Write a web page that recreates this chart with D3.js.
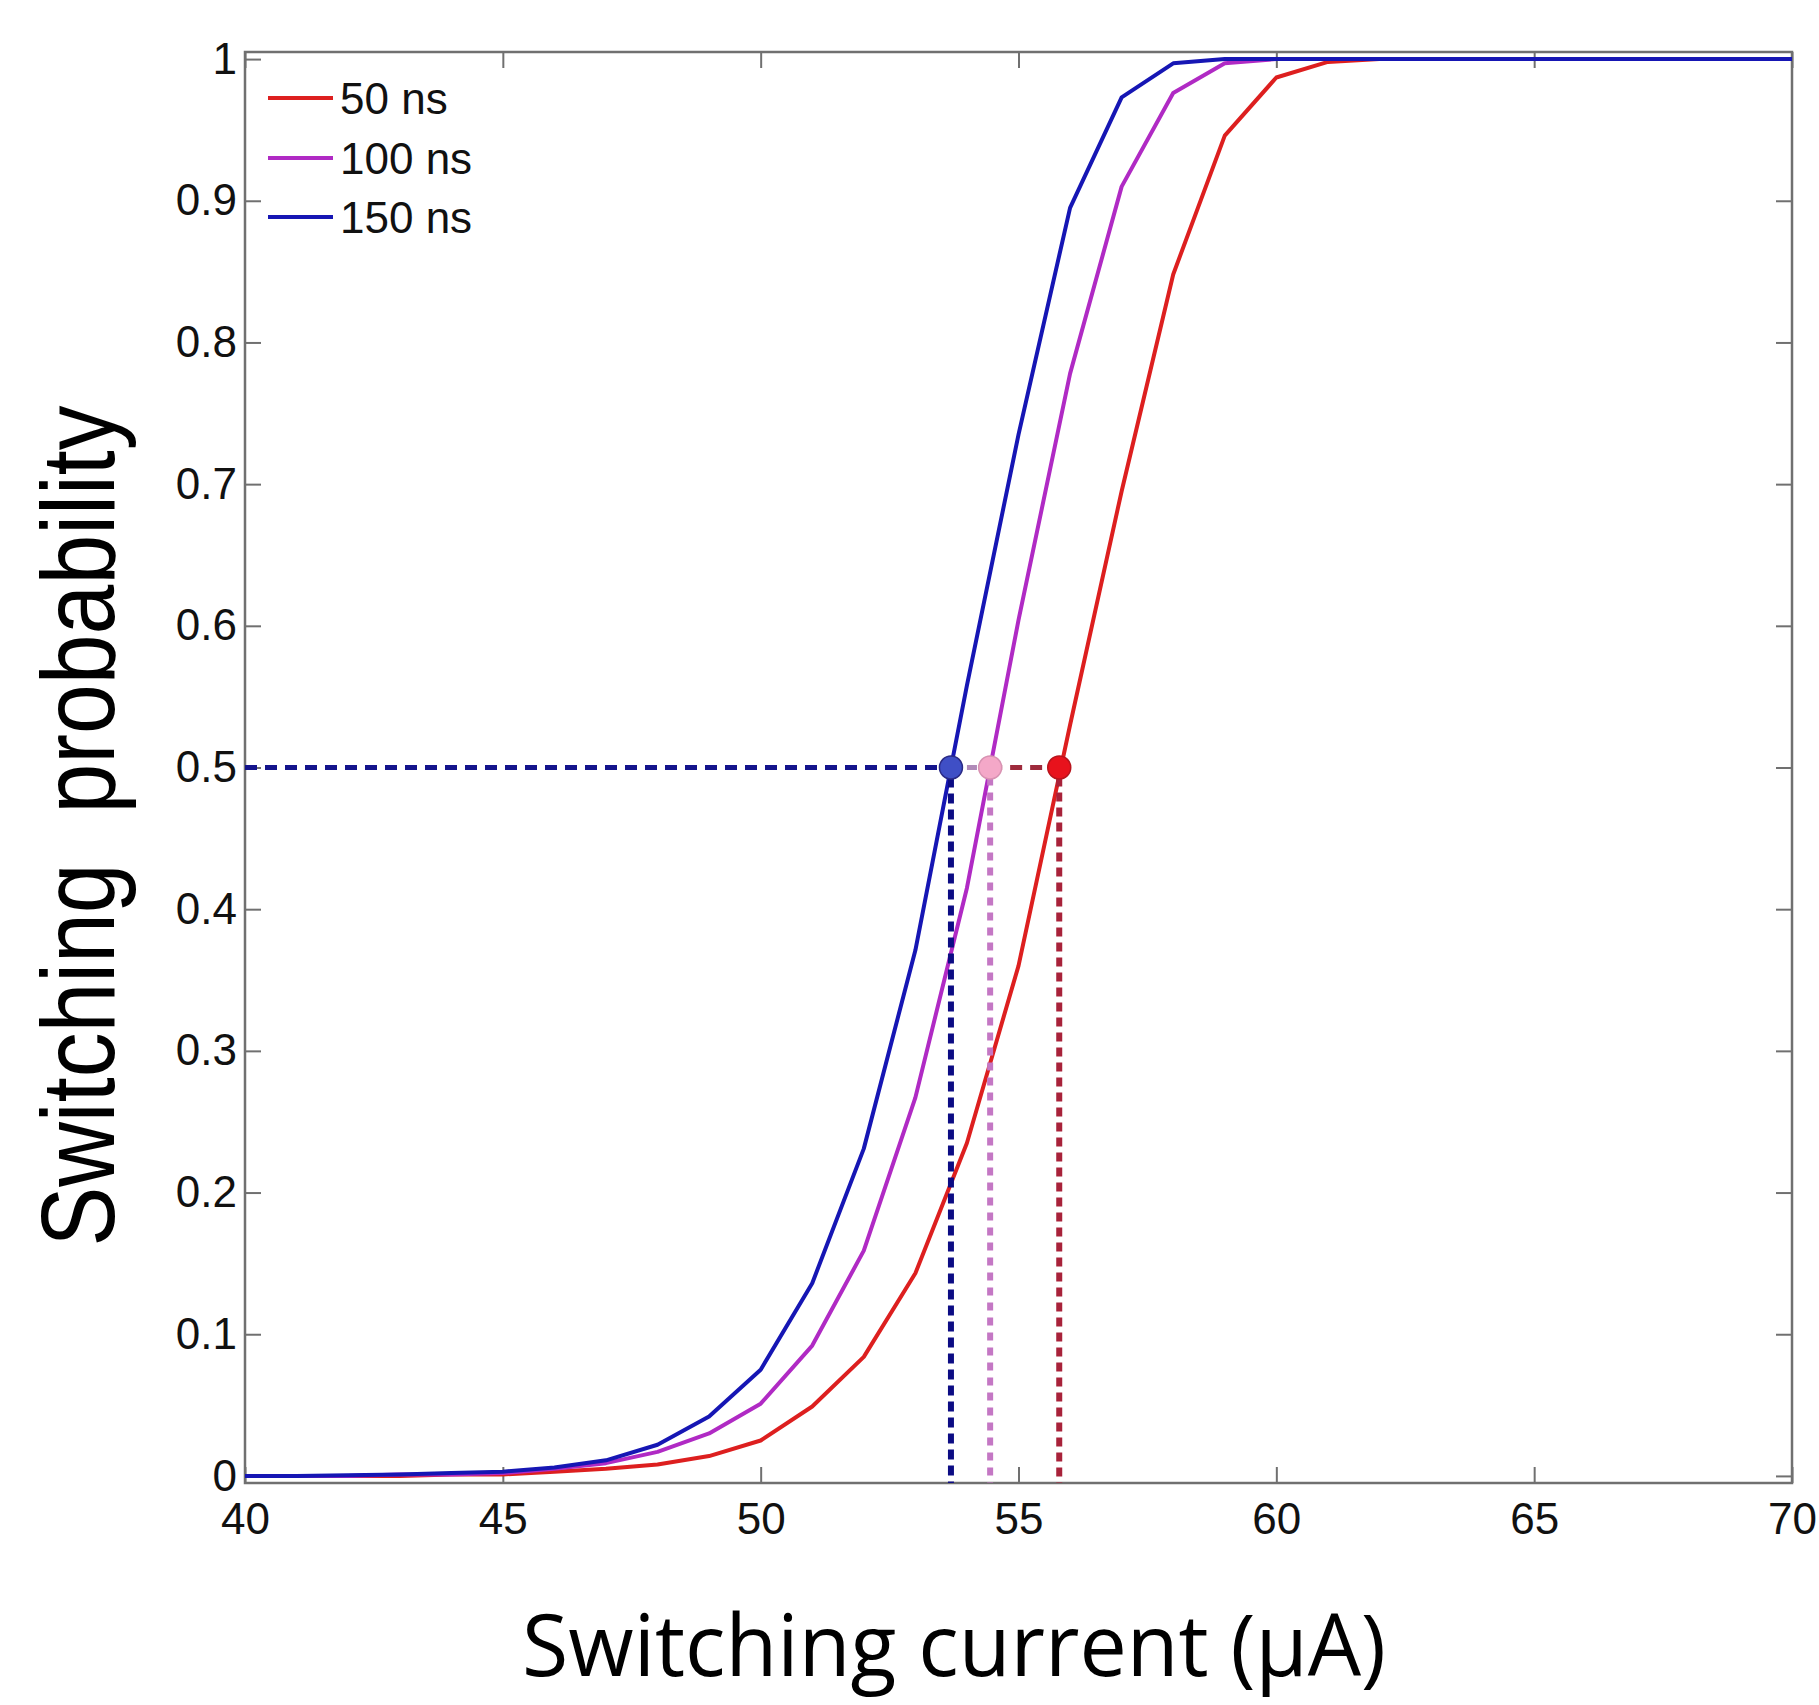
<!DOCTYPE html>
<html>
<head>
<meta charset="utf-8">
<script src="https://cdn.jsdelivr.net/npm/d3@7"></script>
<style>
  html, body { margin: 0; padding: 0; background: #fff; }
  svg { display: block; }
</style>
</head>
<body>
<svg id="chart" width="1819" height="1705"></svg>
<script>
// ---------------- data ----------------
const current = [40,41,42,43,44,45,46,47,48,49,50,51,52,53,54,55,56,57,58,59,60,61,62,63,64,65,66,67,68,69,70];
const p50ns  = [0,0,0,0,0.001,0.001,0.003,0.005,0.008,0.014,0.025,0.049,0.084,0.143,0.235,0.36,0.53,0.695,0.848,0.946,0.987,0.998,1,1,1,1,1,1,1,1,1];
const p100ns = [0,0,0,0.001,0.001,0.002,0.005,0.009,0.017,0.03,0.051,0.092,0.159,0.267,0.415,0.604,0.778,0.91,0.976,0.997,1,1,1,1,1,1,1,1,1,1,1];
const p150ns = [0,0,0.0005,0.001,0.002,0.003,0.006,0.011,0.022,0.042,0.075,0.136,0.231,0.371,0.558,0.735,0.895,0.973,0.997,1,1,1,1,1,1,1,1,1,1,1,1];
const seriesNames = ["50 ns", "100 ns", "150 ns"];
const seriesColors = ["#dd1f1f", "#b02ac4", "#1616b4"];
// I at 50 % switching probability for 150 ns, 100 ns, 50 ns
const halfLevel = 0.5;
const halfCurrents = [53.69, 54.45, 55.79];
const xTicks = [40,45,50,55,60,65,70];
const yTicks = [0,0.1,0.2,0.3,0.4,0.5,0.6,0.7,0.8,0.9,1];
const xLabel = "Switching current (\u03bcA)";
const yLabel = "Switching  probability";

// ---------------- layout ----------------
const svg = d3.select("#chart");
const L = 245, R = 1792, T = 52, B = 1483;
const x = d3.scaleLinear().domain([40, 70]).range([L, R]);
const y = d3.scaleLinear().domain([-0.005, 1.005]).range([B, T]);
const axisColor = "#707070";
const tickFont = "'Liberation Sans', Arial, sans-serif";

// axes (inward ticks)
const fmtY = d => (d === 0 ? "0" : d === 1 ? "1" : d3.format(".1f")(d));
function styleAxis(g) {
  g.select(".domain").remove();
  g.selectAll(".tick line").attr("stroke", axisColor).attr("stroke-width", 2);
  g.selectAll(".tick text").attr("fill", "#111").style("font-family", tickFont).style("font-size", "44px");
}
svg.append("g").attr("transform", `translate(0,${B})`)
  .call(d3.axisBottom(x).tickValues(xTicks).tickSize(-16).tickPadding(20).tickFormat(d3.format("d")))
  .call(styleAxis);
svg.append("g").attr("transform", `translate(0,${T})`)
  .call(d3.axisTop(x).tickValues(xTicks).tickSize(-16).tickFormat(""))
  .call(styleAxis);
svg.append("g").attr("transform", `translate(${L},0)`)
  .call(d3.axisLeft(y).tickValues(yTicks).tickSize(-16).tickPadding(8).tickFormat(fmtY))
  .call(styleAxis);
svg.append("g").attr("transform", `translate(${R},0)`)
  .call(d3.axisRight(y).tickValues(yTicks).tickSize(-16).tickFormat(""))
  .call(styleAxis);

// box
svg.append("rect").attr("x", L).attr("y", T).attr("width", R - L).attr("height", B - T)
  .attr("fill", "none").attr("stroke", axisColor).attr("stroke-width", 2.5);

// curves
const seriesData = [p50ns, p100ns, p150ns];
const line = d3.line().x((d, i) => x(current[i])).y(d => y(d));
seriesData.forEach((s, k) => {
  svg.append("path").datum(s).attr("d", line)
    .attr("fill", "none").attr("stroke", seriesColors[k]).attr("stroke-width", 4)
    .attr("stroke-linejoin", "round");
});

// 50% guide lines
const yh = y(halfLevel);
const hSegs = [
  {x1: 40, x2: halfCurrents[0], color: "#14148c", dash: "12,8"},
  {x1: halfCurrents[0], x2: halfCurrents[1], color: "#b08ab8", dash: "10,6"},
  {x1: halfCurrents[1], x2: halfCurrents[2], color: "#9e2a3c", dash: "12,8"}
];
svg.append("g").selectAll("line").data(hSegs).join("line")
  .attr("x1", d => x(d.x1)).attr("x2", d => x(d.x2))
  .attr("y1", yh).attr("y2", yh)
  .attr("stroke", d => d.color).attr("stroke-width", 5).attr("stroke-dasharray", d => d.dash);

const vColors = ["#0c0c84", "#c477c4", "#a8223a"];
const vDash = ["10,6", "8,7", "9,6"];
svg.append("g").selectAll("line").data(halfCurrents).join("line")
  .attr("x1", d => x(d)).attr("x2", d => x(d))
  .attr("y1", yh + 10).attr("y2", B)
  .attr("stroke", (d, i) => vColors[i]).attr("stroke-width", 6)
  .attr("stroke-dasharray", (d, i) => vDash[i]);

const dotFill = ["#3f4fc6", "#f4a8c8", "#e8121c"];
const dotStroke = ["#2a2a86", "#d892b2", "#b8141c"];
svg.append("g").selectAll("circle").data(halfCurrents).join("circle")
  .attr("cx", d => x(d)).attr("cy", yh).attr("r", 11.5)
  .attr("fill", (d, i) => dotFill[i]).attr("stroke", (d, i) => dotStroke[i]).attr("stroke-width", 1.5);

// legend
const legY = [98, 158, 217];
const leg = svg.append("g");
seriesNames.forEach((n, k) => {
  leg.append("line").attr("x1", 268).attr("x2", 333).attr("y1", legY[k]).attr("y2", legY[k])
    .attr("stroke", seriesColors[k]).attr("stroke-width", 4);
  leg.append("text").attr("x", 340).attr("y", legY[k] + 16).text(n)
    .style("font-family", tickFont).style("font-size", "44px").attr("fill", "#111");
});

// axis labels
svg.append("text").attr("x", 954).attr("y", 1676).attr("text-anchor", "middle")
  .attr("textLength", 864).attr("lengthAdjust", "spacingAndGlyphs")
  .style("font-family", "'Open Sans', 'Noto Sans', sans-serif").style("font-size", "86px")
  .attr("fill", "#000").text(xLabel);
svg.append("text").attr("transform", "translate(114,826) rotate(-90)").attr("text-anchor", "middle")
  .attr("textLength", 841).attr("lengthAdjust", "spacingAndGlyphs")
  .style("font-family", tickFont).style("font-size", "104px").style("white-space", "pre")
  .attr("fill", "#000").text(yLabel);
</script>
</body>
</html>
